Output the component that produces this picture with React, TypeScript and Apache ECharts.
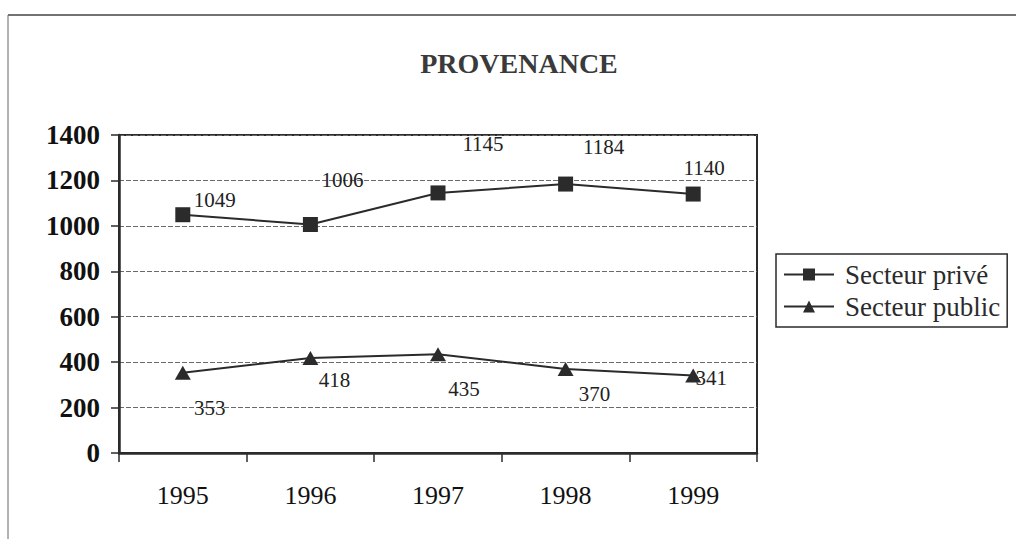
import React, { useEffect, useRef } from "react";
import * as echarts from "echarts";

const years = ["1995", "1996", "1997", "1998", "1999"];
const prive = [1049, 1006, 1145, 1184, 1140];
const publicS = [353, 418, 435, 370, 341];
const yTicks = { min: 0, max: 1400, interval: 200 };

// label offsets (px) relative to each point
const priveLabelOffsets = [[32, -15], [32, -44], [45, -49], [38, -37], [11, -26]];
const publicLabelOffsets = [[27, 35], [24, 22], [26, 35], [29, 25], [18, 2]];

const FONT = "'Liberation Serif', 'Times New Roman', serif";
const INK = "#2b2b2b";

export default function App() {
  const ref = useRef<HTMLDivElement>(null);
  useEffect(() => {
    document.body.style.margin = "0";
    const chart = echarts.init(ref.current!, undefined, { renderer: "svg" });
    const mk = (vals: number[], offs: number[][]) =>
      vals.map((v, i) => ({
        value: v,
        label: { show: true, position: "inside", offset: offs[i] },
      }));
    chart.setOption({
      animation: false,
      backgroundColor: "#fff",
      title: {
        text: "PROVENANCE",
        left: 514,
        textAlign: "center",
        top: 44,
        textStyle: { fontFamily: FONT, fontSize: 28, fontWeight: "bold", color: "#3a3a3a" },
      },
      legend: {
        orient: "vertical",
        left: 776,
        top: 254,
        padding: [7, 7, 7, 7],
        itemGap: 5,
        itemWidth: 50,
        itemHeight: 15,
        borderColor: INK,
        borderWidth: 1.5,
        textStyle: { fontFamily: FONT, fontSize: 27, color: INK, padding: [0, 0, 0, 6] },
        data: ["Secteur privé", "Secteur public"],
      },
      grid: {
        left: 119,
        top: 135,
        width: 638,
        height: 318,
        show: true,
        borderColor: INK,
        borderWidth: 2,
        backgroundColor: "transparent",
      },
      xAxis: {
        type: "category",
        data: years,
        boundaryGap: true,
        axisLine: { lineStyle: { color: INK, width: 2.5 } },
        axisTick: { show: true, length: 9, alignWithLabel: false, lineStyle: { color: INK, width: 1.5 } },
        axisLabel: { fontFamily: FONT, fontSize: 26, color: "#111", margin: 29 },
        splitLine: { show: false },
      },
      yAxis: {
        type: "value",
        min: yTicks.min,
        max: yTicks.max,
        interval: yTicks.interval,
        axisLine: { show: true, lineStyle: { color: INK, width: 2.5 } },
        axisTick: { show: true, length: 8, lineStyle: { color: INK, width: 1.5 } },
        axisLabel: {
          fontFamily: FONT,
          fontSize: 27,
          fontWeight: "bold",
          color: "#111",
          margin: 19,
          formatter: (v: number) => String(v),
        },
        splitLine: { show: true, lineStyle: { color: "#6a6a6a", width: 1, type: [5, 2] } },
      },
      series: [
        {
          name: "Secteur privé",
          type: "line",
          data: mk(prive, priveLabelOffsets),
          symbol: "rect",
          symbolSize: 15,
          itemStyle: { color: INK },
          lineStyle: { color: INK, width: 2 },
          label: { fontFamily: FONT, fontSize: 21, color: "#222" },
        },
        {
          name: "Secteur public",
          type: "line",
          data: mk(publicS, publicLabelOffsets),
          symbol: "triangle",
          symbolSize: [16, 14],
          itemStyle: { color: INK },
          lineStyle: { color: INK, width: 2 },
          label: { fontFamily: FONT, fontSize: 21, color: "#222" },
        },
      ],
      graphic: [
        { type: "line", shape: { x1: 8, y1: 15, x2: 1016, y2: 15 }, style: { stroke: "#444", lineWidth: 1.5 } },
        { type: "line", shape: { x1: 8, y1: 15, x2: 8, y2: 539 }, style: { stroke: "#666", lineWidth: 1 } },
      ],
    });
    return () => chart.dispose();
  }, []);
  return <div ref={ref} style={{ width: 1016, height: 539 }} />;
}
